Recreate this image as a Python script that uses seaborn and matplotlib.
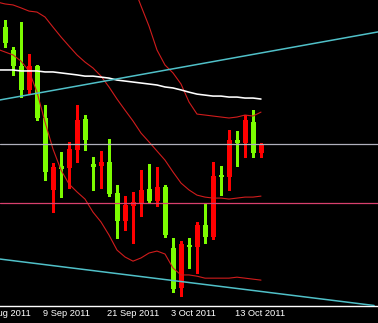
import numpy as np
import pandas as pd
import matplotlib
matplotlib.use("Agg")
import matplotlib.pyplot as plt
import matplotlib.transforms as mtransforms
import seaborn as sns

# ---- data (EURUSD daily, 2 Sep 2011 .. 18 Oct 2011) ----
days = ["2 Sep", "5 Sep", "6 Sep", "7 Sep", "8 Sep", "9 Sep",
        "12 Sep", "13 Sep", "14 Sep", "15 Sep", "16 Sep",
        "19 Sep", "20 Sep", "21 Sep", "22 Sep", "23 Sep",
        "26 Sep", "27 Sep", "28 Sep", "29 Sep", "30 Sep",
        "3 Oct", "4 Oct", "5 Oct", "6 Oct", "7 Oct",
        "10 Oct", "11 Oct", "12 Oct", "13 Oct", "14 Oct",
        "17 Oct", "18 Oct"]
opens = [1.4238, 1.4145, 1.4080, 1.3983, 1.4080, 1.3869, 1.3577, 1.3674, 1.3666, 1.3739, 1.3865,
         1.3682, 1.3674, 1.3690, 1.3564, 1.3451, 1.3512, 1.3524, 1.3581, 1.3532, 1.3589,
         1.3341, 1.3179, 1.3353, 1.3345, 1.3435, 1.3386, 1.3638, 1.3629, 1.3780, 1.3767,
         1.3853, 1.3727]
highs = [1.4267, 1.4157, 1.4259, 1.4129, 1.4084, 1.3922, 1.3686, 1.3731, 1.3772, 1.3922, 1.3881,
         1.3711, 1.3735, 1.3784, 1.3597, 1.3552, 1.3569, 1.3658, 1.3682, 1.3670, 1.3597,
         1.3382, 1.3370, 1.3382, 1.3447, 1.3524, 1.3690, 1.3674, 1.3820, 1.3816, 1.3881,
         1.3901, 1.3767]
lows = [1.4157, 1.4044, 1.3954, 1.3970, 1.3861, 1.3617, 1.3487, 1.3548, 1.3585, 1.3690, 1.3739,
        1.3577, 1.3585, 1.3552, 1.3382, 1.3414, 1.3361, 1.3471, 1.3524, 1.3512, 1.3386,
        1.3163, 1.3146, 1.3260, 1.3240, 1.3361, 1.3378, 1.3556, 1.3577, 1.3674, 1.3711,
        1.3711, 1.3711]
closes = [1.4173, 1.4080, 1.3983, 1.4080, 1.3869, 1.3650, 1.3670, 1.3662, 1.3743, 1.3861, 1.3780,
          1.3670, 1.3690, 1.3560, 1.3451, 1.3516, 1.3528, 1.3577, 1.3532, 1.3589, 1.3394,
          1.3175, 1.3357, 1.3345, 1.3435, 1.3386, 1.3633, 1.3629, 1.3780, 1.3767, 1.3861,
          1.3727, 1.3763]

# indicator values from 1 Sep (index -1) to 18 Oct (index 32)
ind_index = list(range(-1, 33))
ma_slow = [1.4064, 1.4064, 1.4064, 1.4060, 1.4060, 1.4060, 1.4056, 1.4056, 1.4052, 1.4048,
           1.4044, 1.4039, 1.4039, 1.4035, 1.4031, 1.4023, 1.4019, 1.4015, 1.4011, 1.4007,
           1.4003, 1.3995, 1.3991, 1.3983, 1.3974, 1.3966, 1.3962, 1.3958, 1.3958, 1.3954,
           1.3954, 1.3950, 1.3950, 1.3946]
bb_mid = [1.4340, 1.4332, 1.4328, 1.4316, 1.4303, 1.4299, 1.4279, 1.4238, 1.4198, 1.4161,
          1.4125, 1.4096, 1.4072, 1.4039, 1.3995, 1.3946, 1.3901, 1.3857, 1.3808, 1.3772,
          1.3735, 1.3698, 1.3650, 1.3605, 1.3577, 1.3556, 1.3548, 1.3544, 1.3544, 1.3540,
          1.3544, 1.3548, 1.3548, 1.3552]
bb_upper = [1.4531, 1.4527, 1.4531, 1.4531, 1.4547, 1.4624, 1.4705, 1.4734, 1.4738, 1.4722,
            1.4681, 1.4653, 1.4657, 1.4632, 1.4596, 1.4559, 1.4498, 1.4409, 1.4324, 1.4242,
            1.4145, 1.4084, 1.4052, 1.4007, 1.3934, 1.3885, 1.3881, 1.3877, 1.3873, 1.3869,
            1.3873, 1.3881, 1.3877, 1.3893]
bb_lower = [1.4149, 1.4137, 1.4125, 1.4100, 1.4060, 1.3974, 1.3853, 1.3743, 1.3658, 1.3601,
            1.3569, 1.3540, 1.3487, 1.3447, 1.3394, 1.3333, 1.3305, 1.3288, 1.3301, 1.3321,
            1.3329, 1.3317, 1.3260, 1.3232, 1.3232, 1.3227, 1.3219, 1.3219, 1.3219, 1.3219,
            1.3223, 1.3219, 1.3215, 1.3211]

h_levels = [1.3763, 1.3524]
trend_upper = [(0, 1.3946), (32, 1.4133)]
trend_lower = [(0, 1.3294), (32, 1.3165)]

tick_index = [-3, 5, 13, 21, 29]
tick_labels = ["30 Aug 2011", "9 Sep 2011", "21 Sep 2011", "3 Oct 2011", "13 Oct 2011"]

# ---- style ----
sns.set_theme(style="dark", rc={"axes.facecolor": "black", "figure.facecolor": "black"})
plt.rcParams["font.family"] = ["Liberation Sans", "DejaVu Sans"]

BULL = "#ff0000"
BEAR = "#7cfc00"
BAND = "#d01c1c"
CYAN = "#50c0c8"

fig = plt.figure(figsize=(3.78, 3.23), dpi=100, facecolor="black")
ax = fig.add_axes([0, 17.5 / 323, 1, 305.5 / 323])
ax.set_facecolor("black")

df = pd.DataFrame({"day": days, "open": opens, "high": highs, "low": lows, "close": closes})
df["i"] = np.arange(len(df))
df["color"] = np.where(df["close"] >= df["open"], BULL, BEAR)
df["body_lo"] = df[["open", "close"]].min(axis=1)
df["body_h"] = (df["close"] - df["open"]).abs().clip(lower=0.0003)

# candles
ax.vlines(df["i"], df["low"], df["high"], colors=df["color"], linewidth=0.9,
          antialiased=False, zorder=2)
ax.bar(df["i"], df["body_h"], bottom=df["body_lo"], width=0.625, color=df["color"],
       linewidth=0, antialiased=False, zorder=3)

# indicators (seaborn lines)
ind = pd.DataFrame({"i": ind_index, "ma": ma_slow, "mid": bb_mid,
                    "up": bb_upper, "lo": bb_lower})
for col in ["mid", "up", "lo"]:
    sns.lineplot(data=ind, x="i", y=col, ax=ax, color=BAND, linewidth=0.8,
                 estimator=None, sort=False, zorder=4)
sns.lineplot(data=ind, x="i", y="ma", ax=ax, color="white", linewidth=1.15,
             estimator=None, sort=False, zorder=4)

# horizontal levels and trend lines
ax.axhline(h_levels[0], color="#b0b0bc", linewidth=0.9, zorder=5)
ax.axhline(h_levels[1], color="#d8406e", linewidth=0.9, zorder=5)
ax.axline(trend_upper[0], trend_upper[1], color=CYAN, linewidth=1.1, zorder=5)
ax.axline(trend_lower[0], trend_lower[1], color=CYAN, linewidth=1.1, zorder=5)

ax.set_xlim(-0.625, 46.625)
ax.set_ylim(1.3108, 1.4348)
ax.set_xlabel("")
ax.set_ylabel("")
ax.set_yticks([])
ax.grid(False)

for s in ["top", "left", "right"]:
    ax.spines[s].set_visible(False)
ax.spines["bottom"].set_color("white")
ax.spines["bottom"].set_linewidth(1.0)

ax.set_xticks([t for t in tick_index if t >= 0])
ax.set_xticklabels([])
ax.tick_params(axis="x", colors="white", length=3, width=0.8, direction="out", pad=0)

lab_tr = mtransforms.offset_copy(ax.get_xaxis_transform(), fig=fig, x=-2, y=-11, units="dots")
for t, lab in zip(tick_index, tick_labels):
    ax.text(t, 0, lab, transform=lab_tr, ha="left", va="baseline", color="white",
            fontsize=6.7, clip_on=False)

fig.savefig("out.png", dpi=100, facecolor="black")
